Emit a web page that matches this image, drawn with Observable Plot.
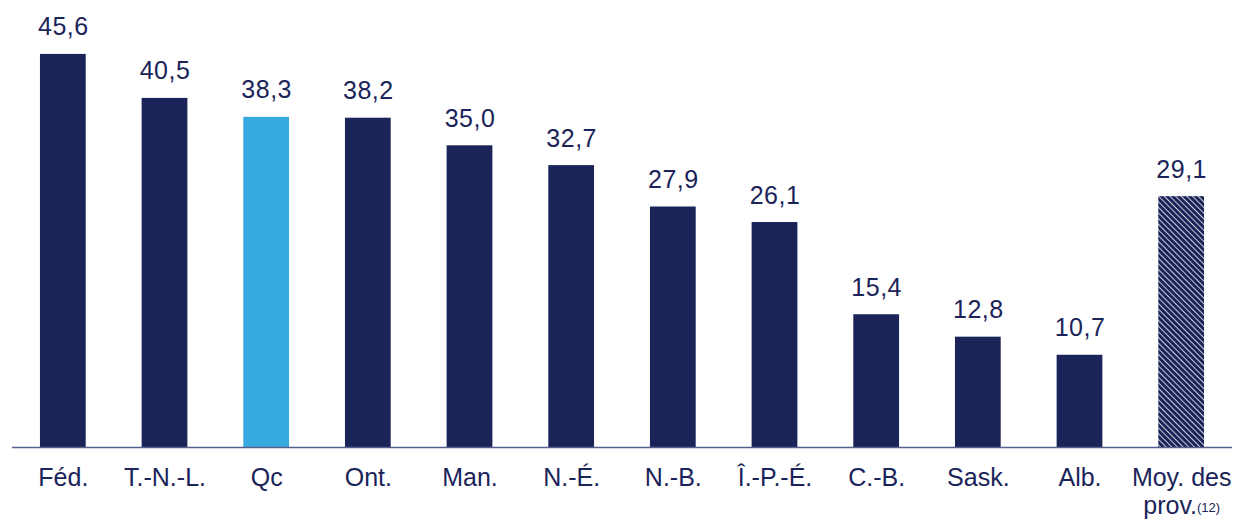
<!DOCTYPE html>
<html>
<head>
<meta charset="utf-8">
<script src="https://cdn.jsdelivr.net/npm/d3@7"></script>
<script src="https://cdn.jsdelivr.net/npm/@observablehq/plot@0.6"></script>
<style>
  html, body { margin: 0; padding: 0; background: #fff; }
  #chart svg { display: block; }
</style>
</head>
<body>
<div id="chart"></div>
<script>
const categories = ["Féd.", "T.-N.-L.", "Qc", "Ont.", "Man.", "N.-É.", "N.-B.", "Î.-P.-É.", "C.-B.", "Sask.", "Alb.", "Moy. des prov."];
const values = [45.6, 40.5, 38.3, 38.2, 35.0, 32.7, 27.9, 26.1, 15.4, 12.8, 10.7, 29.1];
const highlightCategory = "Qc";
const averageCategory = "Moy. des prov.";
const averageNote = "(12)";

const navy = "#1b2459";
const lightBlue = "#36a9e1";
const data = categories.map((c, i) => ({cat: c, value: values[i]}));
const fillFor = d => d.cat === highlightCategory ? lightBlue : d.cat === averageCategory ? "url(#hatch)" : navy;
const fmt = v => v.toFixed(1).replace(".", ",");

const chart = Plot.plot({
  width: 1235,
  height: 525,
  marginLeft: 12,
  marginRight: 3,
  marginTop: 16,
  marginBottom: 78,
  style: {fontFamily: "'Liberation Sans', Arial, sans-serif", color: navy, background: "#fff"},
  x: {domain: categories, paddingInner: 0.55, paddingOuter: 0.275, round: false, label: null, axis: null},
  y: {domain: [0, 50], axis: null},
  color: {type: "identity"},
  marks: [
    Plot.barY(data, {x: "cat", y: "value", fill: fillFor}),
    Plot.text(data, {x: "cat", y: "value", text: d => fmt(d.value), dy: -27, fontSize: 25, fill: navy}),
    Plot.ruleY([0], {stroke: "#55608f", strokeWidth: 1.5}),
    Plot.axisX({
      tickSize: 0,
      tickPadding: 19,
      fontSize: 25,
      lineHeight: 1.12,
      tickFormat: d => d === averageCategory ? "Moy. des\nprov." : d
    })
  ]
});

const svg = d3.select(chart);
const defs = svg.insert("defs", ":first-child");
const pat = defs.append("pattern")
  .attr("id", "hatch")
  .attr("patternUnits", "userSpaceOnUse")
  .attr("width", 4)
  .attr("height", 4)
  .attr("patternTransform", "rotate(-45)");
pat.append("rect").attr("width", 4).attr("height", 4).attr("fill", navy);
pat.append("line").attr("x1", 0.5).attr("y1", 0).attr("x2", 0.5).attr("y2", 4)
  .attr("stroke", "#ffffff").attr("stroke-width", 0.9).attr("stroke-opacity", 0.85);

svg.selectAll("text").each(function() {
  const t = d3.select(this);
  if (this.textContent === "Moy. desprov.") {
    const spans = t.selectAll("tspan");
    const last = d3.select(spans.nodes()[spans.size() - 1]);
    last.append("tspan").attr("font-size", 13).attr("dy", "-0.2em").text(averageNote);
  }
});
svg.selectAll("g[aria-label='text'] text").attr("letter-spacing", 0.5);

document.getElementById("chart").appendChild(chart);
</script>
</body>
</html>
